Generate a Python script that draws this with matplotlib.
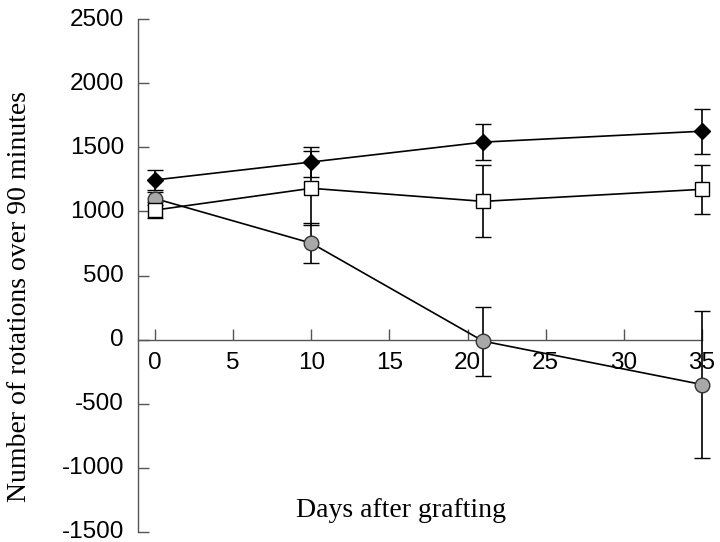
import matplotlib
matplotlib.use("Agg")
import matplotlib.pyplot as plt
import matplotlib.transforms as mtransforms
import numpy as np

days = [0, 10, 21, 35]
diamond_vals = [1245, 1385, 1540, 1625]
diamond_err = [80, 120, 140, 175]
square_vals = [1010, 1180, 1078, 1172]
square_err = [65, 290, 280, 190]
circle_vals = [1100, 752, -12, -350]
circle_err = [50, 158, 270, 570]

x_ticks = [0, 5, 10, 15, 20, 25, 30, 35]
y_ticks = [-1500, -1000, -500, 0, 500, 1000, 1500, 2000, 2500]

fig = plt.figure(figsize=(7.2, 5.42), dpi=100)
ax = fig.add_axes([138/720, 10/542, (702-138)/720, (532-19)/542])
ax.set_xlim(-1.09, 35)
ax.set_ylim(-1500, 2500)

common = dict(color='black', lw=1.2, elinewidth=1.2, capsize=6, capthick=1.2, clip_on=False, zorder=3)
ax.errorbar(days, circle_vals, yerr=circle_err, marker='o', ms=10.5, mfc='#a8a8a8', mec='#333333', mew=1.0, **common)
ax.errorbar(days, square_vals, yerr=square_err, marker='s', ms=9.5, mfc='white', mec='black', mew=1.0, **common)
ax.errorbar(days, diamond_vals, yerr=diamond_err, marker='D', ms=8.5, mfc='black', mec='black', mew=1.0, **common)

for s in ['top', 'right']:
    ax.spines[s].set_visible(False)
ax.spines['bottom'].set_position(('data', 0))
for s in ['left', 'bottom']:
    ax.spines[s].set_color('#555555')
    ax.spines[s].set_linewidth(1.0)

ax.set_xticks(x_ticks)
ax.set_yticks(y_ticks)
ax.set_xticklabels([str(v) for v in x_ticks])
ax.set_yticklabels([str(v) for v in y_ticks])
ax.tick_params(axis='both', direction='in', length=8, width=1.0, color='#555555',
               labelsize=17.5)
ax.tick_params(axis='y', pad=10)
ax.tick_params(axis='x', pad=9)
shift = mtransforms.ScaledTranslation(0, 2/100, fig.dpi_scale_trans)
for lab in ax.get_xticklabels() + ax.get_yticklabels():
    lab.set_fontfamily('Liberation Sans')
for lab in ax.get_yticklabels():
    lab.set_transform(lab.get_transform() + shift)

fig.text(401/720, (542-517)/542, 'Days after grafting', family='Liberation Serif',
         fontsize=20, ha='center', va='baseline')
fig.text(20/720, 1-296/542, 'Number of rotations over 90 minutes', family='Liberation Serif',
         fontsize=20, ha='center', va='center', rotation=90)

fig.savefig('out.png', dpi=100)
